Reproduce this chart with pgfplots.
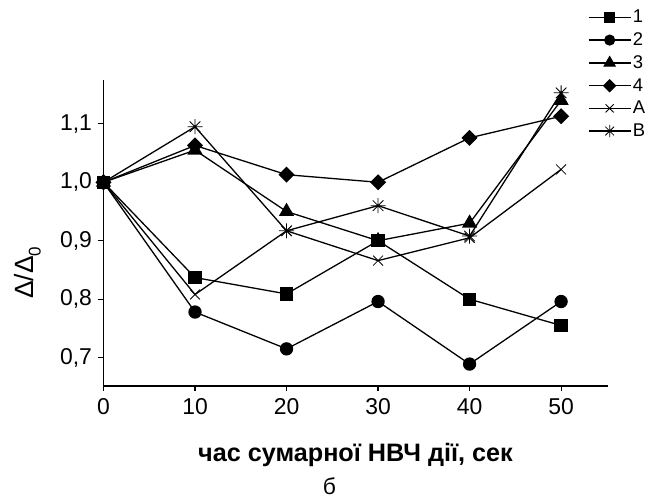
\documentclass[border=0pt]{standalone}
\usepackage{fontspec}
\setmainfont{Liberation Sans}
\usepackage{pgfplots}
\pgfplotsset{compat=1.18}

% eight-armed star for series B
\pgfdeclareplotmark{eightstar}{%
  \pgfpathmoveto{\pgfqpoint{-\pgfplotmarksize}{0pt}}\pgfpathlineto{\pgfqpoint{\pgfplotmarksize}{0pt}}%
  \pgfpathmoveto{\pgfqpoint{0pt}{-\pgfplotmarksize}}\pgfpathlineto{\pgfqpoint{0pt}{\pgfplotmarksize}}%
  \pgfpathmoveto{\pgfqpoint{-0.707\pgfplotmarksize}{-0.707\pgfplotmarksize}}\pgfpathlineto{\pgfqpoint{0.707\pgfplotmarksize}{0.707\pgfplotmarksize}}%
  \pgfpathmoveto{\pgfqpoint{-0.707\pgfplotmarksize}{0.707\pgfplotmarksize}}\pgfpathlineto{\pgfqpoint{0.707\pgfplotmarksize}{-0.707\pgfplotmarksize}}%
  \pgfusepathqstroke}

\pgfplotsset{
  legline/.style={legend image code/.code={\draw[mark repeat=2,mark phase=2,##1,every mark/.append style={scale=0.82}] plot coordinates {(0bp,0bp) (21bp,0bp) (42bp,0bp)};}},
}

\begin{document}
\begin{tikzpicture}
\begin{axis}[
    at={(0,0)}, anchor=south west,
    scale only axis,
    width=504bp, height=306bp,
    xmin=0, xmax=55.07,
    ymin=0.6515, ymax=1.175,
    axis lines*=left,
    axis line style={line width=1.2bp},
    tick style={line width=1.2bp, black},
    tick align=outside,
    major tick length=5bp,
    xtick={0,10,20,30,40,50},
    ytick={0.7,0.8,0.9,1.0,1.1},
    /pgf/number format/assume math mode=true,
    y tick label style={/pgf/number format/fixed, /pgf/number format/fixed zerofill,
      /pgf/number format/precision=1, /pgf/number format/use comma},
    tick label style={font=\fontsize{23}{26}\selectfont},
    xticklabel style={yshift=-4bp},
    yticklabel style={xshift=-3bp},
    xlabel={\bfseries час сумарної НВЧ дії, сек},
    xlabel style={font=\fontsize{25.3}{28}\selectfont, at={(rel axis cs:0.5,0)}, anchor=center, yshift=-69bp},
    ylabel={Δ/Δ\raisebox{-0.28em}{\fontsize{17}{18}\selectfont 0}},
    ylabel style={font=\fontsize{26.5}{28}\selectfont, at={(rel axis cs:0,0.37)}, anchor=center, yshift=76bp},
    every axis plot/.append style={black, line width=1.3bp},
    legend style={draw=none, fill=none, at={(rel axis cs:0.955,1.24)}, anchor=north west,
      font=\fontsize{18.5}{20}\selectfont, row sep=5.5bp,
      nodes={inner sep=1.5bp}},
    legend cell align=left,
    legline,
]
\addplot[mark=square*, mark size=6bp] coordinates {(0,1) (10,0.837) (20,0.809) (30,0.900) (40,0.800) (50,0.755)};
\addlegendentry{1}
\addplot[mark=*, mark size=6bp] coordinates {(0,1) (10,0.778) (20,0.715) (30,0.796) (40,0.689) (50,0.796)};
\addlegendentry{2}
\addplot[mark=triangle*, mark size=7.5bp] coordinates {(0,1) (10,1.055) (20,0.950) (30,0.900) (40,0.930) (50,1.140)};
\addlegendentry{3}
\addplot[mark=square*, mark size=5bp, mark options={rotate=45}] coordinates {(0,1) (10,1.063) (20,1.013) (30,1.000) (40,1.076) (50,1.113)};
\addlegendentry{4}
\addplot[mark=x, mark size=7bp, mark options={line width=0.8bp}] coordinates {(0,1) (10,0.808) (20,0.917) (30,0.866) (40,0.905) (50,1.022)};
\addlegendentry{A}
\addplot[mark=eightstar, mark size=7.5bp, mark options={line width=0.8bp}] coordinates {(0,1) (10,1.095) (20,0.917) (30,0.960) (40,0.908) (50,1.153)};
\addlegendentry{B}
\end{axis}
\node[font=\fontsize{23}{26}\selectfont] at (226bp,-100bp) {б};
\path[use as bounding box] (-103.5bp,-111bp) rectangle (556.5bp,386bp);
\end{tikzpicture}
\end{document}
